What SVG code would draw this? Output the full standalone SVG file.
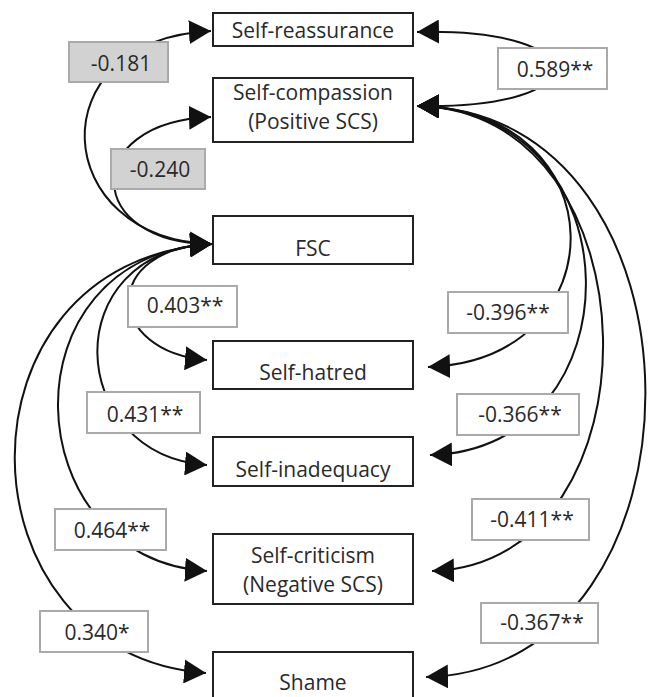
<svg xmlns="http://www.w3.org/2000/svg" width="649" height="697" viewBox="0 0 649 697">
<style>
.node rect{fill:#fff;stroke:#222;stroke-width:2}
.node text,.lab text{font-family:"Open Sans","Liberation Sans",sans-serif;font-size:21px;fill:#2a2a2a;text-anchor:middle}
.lab rect{fill:#fff;stroke:#aaa;stroke-width:2}
.lab.g rect{fill:#d2d2d2}
.conn path{fill:none;stroke:#111;stroke-width:2;marker-start:url(#ah);marker-end:url(#ah)}
</style>
<defs>
<marker id="ah" markerUnits="userSpaceOnUse" markerWidth="22" markerHeight="24" refX="22" refY="12" orient="auto-start-reverse"><path d="M0,0 L22,12 L0,24 z" fill="#111"/></marker>
</defs>
<rect width="649" height="697" fill="#fff"/>
<g id="connectors" class="conn">
<path d="M212,244 C50,240 35,40 211,31"/>
<path d="M212,244 C85,245 78,122 211,117"/>
<path d="M417,106 C600,110 600,28 417,32"/>
<path d="M212,244 C100,248 105,352 207,360"/>
<path d="M212,244 C55,250 65,455 207,465"/>
<path d="M212,244 C0,255 15,560 207,571"/>
<path d="M212,244 C-55,262 -45,655 206,673"/>
<path d="M417,106 C620,110 620,360 428,367"/>
<path d="M417,106 C640,110 640,450 430,455"/>
<path d="M417,106 C660,110 665,565 432,571"/>
<path d="M417,106 C720,110 720,670 426,677"/>
</g>
<g id="n-sr" class="node"><rect x="213" y="13" width="200" height="33"/><text x="313" y="38">Self-reassurance</text></g>
<g id="n-sc" class="node"><rect x="213" y="78" width="200" height="64"/><text x="313" y="100">Self-compassion</text><text x="313" y="129">(Positive SCS)</text></g>
<g id="n-fsc" class="node"><rect x="213" y="216" width="200" height="48"/><text x="313" y="256">FSC</text></g>
<g id="n-sh" class="node"><rect x="213" y="341" width="200" height="48"/><text x="313" y="380">Self-hatred</text></g>
<g id="n-si" class="node"><rect x="213" y="437" width="200" height="49"/><text x="313" y="477">Self-inadequacy</text></g>
<g id="n-scr" class="node"><rect x="213" y="534" width="200" height="70"/><text x="313" y="563">Self-criticism</text><text x="313" y="592">(Negative SCS)</text></g>
<g id="n-sha" class="node"><rect x="213" y="652" width="200" height="50"/><text x="313" y="690">Shame</text></g>
<g id="labels">
<g class="lab g"><rect x="69" y="42" width="99" height="40"/><text x="121" y="71">-0.181</text></g>
<g class="lab g"><rect x="111" y="149" width="94" height="40"/><text x="160" y="177">-0.240</text></g>
<g class="lab"><rect x="498" y="48" width="109" height="41"/><text x="555" y="77">0.589**</text></g>
<g class="lab"><rect x="128" y="286" width="109" height="41"/><text x="185" y="313">0.403**</text></g>
<g class="lab"><rect x="87" y="392" width="113" height="41"/><text x="145" y="422">0.431**</text></g>
<g class="lab"><rect x="55" y="509" width="111" height="41"/><text x="112" y="538">0.464**</text></g>
<g class="lab"><rect x="40" y="611" width="108" height="41"/><text x="97" y="640">0.340*</text></g>
<g class="lab"><rect x="448" y="292" width="120" height="41"/><text x="508" y="320">-0.396**</text></g>
<g class="lab"><rect x="457" y="394" width="122" height="41"/><text x="520" y="422">-0.366**</text></g>
<g class="lab"><rect x="472" y="499" width="117" height="41"/><text x="532" y="527">-0.411**</text></g>
<g class="lab"><rect x="481" y="603" width="117" height="40"/><text x="542" y="630">-0.367**</text></g>
</g>
</svg>
